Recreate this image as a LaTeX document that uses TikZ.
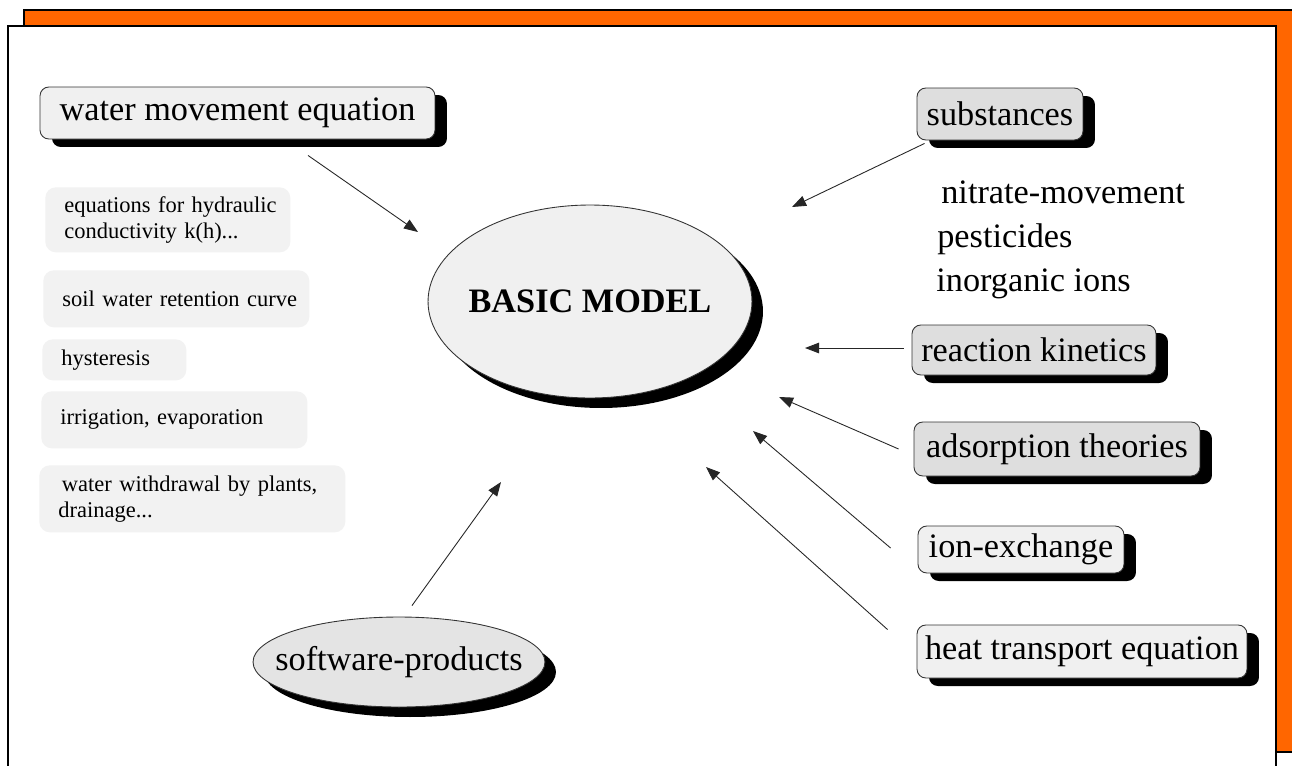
\documentclass[tikz,border=0pt]{standalone}
\usepackage{fontspec}
\setmainfont{Liberation Serif}
\usetikzlibrary{shapes.geometric, arrows.meta, shadows}

\definecolor{frameorange}{HTML}{FF6600}
\definecolor{boxlight}{HTML}{F0F0F0}
\definecolor{boxdark}{HTML}{DEDEDE}
\definecolor{notegray}{HTML}{F2F2F2}
\definecolor{softgray}{HTML}{E4E4E4}

\begin{document}
\begin{tikzpicture}[
        x=0.02cm, y=-0.02cm,
        topic/.style={rectangle, rounded corners=5pt, draw=black!80, line width=0.5pt, fill=boxlight, text centered, inner sep=0pt, font=\fontsize{19.5}{22}\selectfont, general shadow={fill=black, shadow xshift=0.24cm, shadow yshift=-0.16cm}},
        hub/.style={ellipse, draw=black!80, line width=0.5pt, fill=boxlight, inner sep=0pt, font=\fontsize{19.5}{22}\selectfont, general shadow={fill=black, shadow xshift=0.22cm, shadow yshift=-0.2cm}},
        note/.style={rectangle, rounded corners=6pt, fill=notegray, anchor=north west, align=left, inner xsep=0.38cm, inner ysep=0pt, font=\fontsize{12.8}{14.7}\selectfont},
        listitem/.style={anchor=base west, inner sep=0pt, font=\fontsize{19.5}{22}\selectfont},
        arrow/.style={draw=black!85, line width=0.5pt, -{Triangle[length=8pt, width=6pt]}}
    ]

        % ===== frame =====
        \useasboundingbox (0,0) rectangle (1292,765);
        \clip (0,0) rectangle (1292,765);
        \filldraw [fill=frameorange, draw=black, line width=0.6pt] (24,10) rectangle (1310,752);
        \filldraw [fill=white, draw=black, line width=1pt] (8,26) rectangle (1276,790);

        % ===== centre =====
        \node (model) [hub, fill=boxlight, minimum width=6.48cm, minimum height=3.86cm] at (590,301.5) {\makebox[0pt]{\textbf{BASIC MODEL}}};
        \node (soft) [hub, fill=softgray, minimum width=5.84cm, minimum height=1.8cm] at (399,662) {\makebox[0pt]{software-products}};

        % ===== left side =====
        \node (wme) [topic, minimum width=7.9cm, minimum height=1.04cm] at (237.5,113) {water movement equation};
        \node (hydr) [note, text width=4.14cm, minimum height=1.3cm] at (45,187) {\mbox{equations for hydraulic}\\\mbox{conductivity k(h)...}};
        \node (retent) [note, text width=4.56cm, minimum height=1.14cm] at (43,270) {\mbox{soil water retention curve}};
        \node (hyst) [note, text width=2.12cm, minimum height=0.82cm] at (42,339) {\mbox{hysteresis}};
        \node (irrig) [note, text width=4.56cm, minimum height=1.14cm] at (41,391) {\mbox{irrigation, evaporation}};
        \node (withdr) [note, text width=5.36cm, minimum height=1.34cm] at (39,465) {\mbox{\hspace*{2pt}water withdrawal by plants,}\\\mbox{drainage...}};

        % ===== right side =====
        \node (subst) [topic, fill=boxdark, minimum width=3.32cm, minimum height=1.04cm] at (1000,114) {substances};
        \node (nitrate) [listitem] at (941,203) {nitrate-movement};
        \node (pest) [listitem] at (937,247) {pesticides};
        \node (inorg) [listitem] at (936,291) {inorganic ions};
        \node (react) [topic, fill=boxdark, minimum width=4.88cm, minimum height=1.0cm] at (1034,350) {reaction kinetics};
        \node (adsorb) [topic, fill=boxdark, minimum width=5.72cm, minimum height=1.08cm] at (1057,449) {adsorption theories};
        \node (ionex) [topic, minimum width=4.12cm, minimum height=0.94cm] at (1021,549.5) {ion-exchange};
        \node (heat) [topic, minimum width=6.6cm, minimum height=1.06cm] at (1082,651.5) {heat transport equation};

        % ===== arrow tips near the model =====
        \coordinate (tipW) at (418,232);
        \coordinate (tipS) at (792,207);
        \coordinate (tipR) at (805,348);
        \coordinate (tipA) at (779,397);
        \coordinate (tipI) at (753,431);
        \coordinate (tipH) at (706,467);
        \coordinate (tipSw) at (501,482);

        % ===== arrows =====
        \draw [arrow] ([shift={(70.5,16)}]wme.south) -- (tipW);
        \draw [arrow] ([shift={(8,3)}]subst.south west) -- (tipS);
        \draw [arrow] ([shift={(-8,-2)}]react.west) -- (tipR);
        \draw [arrow] ([shift={(-15,0)}]adsorb.west) -- (tipA);
        \draw [arrow] ([shift={(-27,-1.5)}]ionex.west) -- (tipI);
        \draw [arrow] ([shift={(-29,5)}]heat.north west) -- (tipH);
        \draw [arrow] ([shift={(13,-11)}]soft.north) -- (tipSw);

    \end{tikzpicture}
\end{document}
